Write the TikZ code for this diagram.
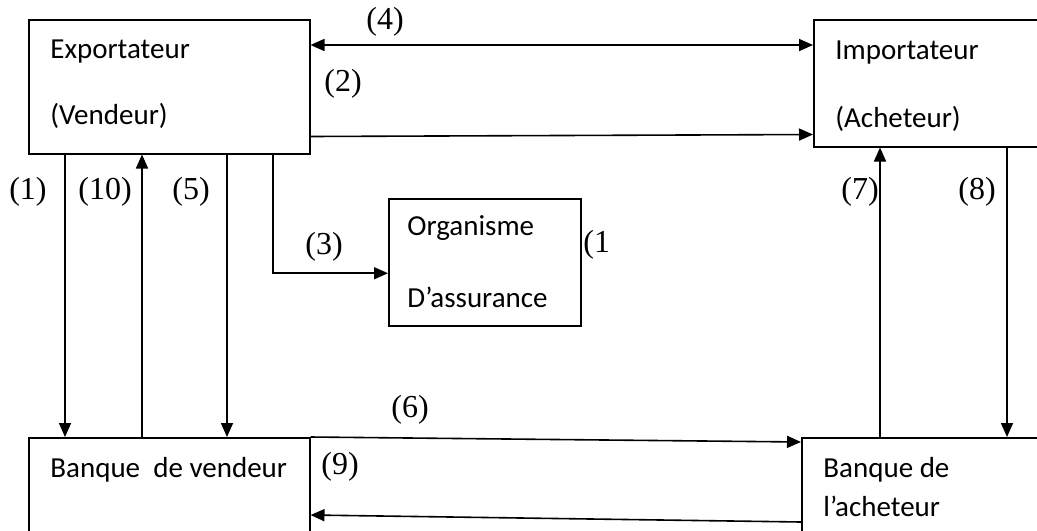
\documentclass[tikz,border=0pt]{standalone}
\usepackage{fontspec}
\setmainfont{Liberation Serif}
\newfontfamily\calibri{Carlito}
\usetikzlibrary{arrows.meta}

\begin{document}
\begin{tikzpicture}[x=0.5pt,y=-0.5pt,
     bx/.style={draw,line width=.75pt,anchor=north west,inner sep=0pt},
     tx/.style={anchor=base west,inner sep=0pt,font=\calibri\fontsize{14.5}{16}\selectfont},
     num/.style={inner sep=0pt,font=\fontsize{16}{18}\selectfont},
     ar/.style={line width=.8pt,-{Triangle[length=7pt,width=6pt]}},
     arb/.style={line width=.8pt,{Triangle[length=7pt,width=6pt]}-{Triangle[length=7pt,width=6pt]}}]
    \useasboundingbox (0,0) rectangle (1037,530);
    \clip (0,0) rectangle (1037,530);
    % boxes
    \node[bx,minimum width=140.5pt,minimum height=67pt](exp) at (28,19){};
    \node[bx,minimum width=140pt,minimum height=63.5pt](imp) at (813,19){};
    \node[bx,minimum width=96pt,minimum height=63.5pt](org) at (388,198){};
    \node[bx,minimum width=140.5pt,minimum height=60pt](bv) at (28,437){};
    \node[bx,minimum width=146pt,minimum height=60pt](ba) at (801,437){};
    \node[tx](e1) at (50,58){Exportateur}; \node[tx](e2) at (50,124){(Vendeur)};
    \node[tx](i1) at (835,59){Importateur}; \node[tx](i2) at (835,127){(Acheteur)};
    \node[tx](o1) at (407,235){Organisme}; \node[tx](o2) at (407,307){D’assurance};
    \node[tx](v1) at (50,477){Banque\ \ de vendeur};
    \node[tx](a1) at (823,477){Banque de}; \node[tx](a2) at (823,516){l’acheteur};
    % flows
    \draw[arb] ([shift={(0,26)}]exp.north east) -- ([shift={(0,26)}]imp.north west);
    \draw[ar] ([shift={(0,-18)}]exp.south east) -- ([shift={(0,-13)}]imp.south west);
    \draw[ar] ([shift={(37,0)}]exp.south west) -- ([shift={(37,0)}]bv.north west);
    \draw[ar] ([shift={(114,0)}]bv.north west) -- ([shift={(114,0)}]exp.south west);
    \draw[ar] ([shift={(199,0)}]exp.south west) -- ([shift={(199,0)}]bv.north west);
    \draw[ar] ([shift={(245,0)}]exp.south west) |- ([shift={(0,11)}]org.west);
    \draw[ar] (bv.north east) -- ([shift={(0,5)}]ba.north west);
    \draw[ar] ([shift={(0,85)}]ba.north west) -- ([shift={(0,78)}]bv.north east);
    \draw[ar] ([shift={(79,0)}]ba.north west) -- ([shift={(67,0)}]imp.south west);
    \draw[ar] ([shift={(194,0)}]imp.south west) -- ([shift={(206,0)}]ba.north west);
    % step numbers
    \node[num](n4) at (385,22){(4)}; \node[num](n2) at (343,84){(2)};
    \node[num](n1) at (28,192){(1)}; \node[num](n10) at (105,192){(10)};
    \node[num](n5) at (191,192){(5)}; \node[num](n3) at (324,247){(3)};
    \node[num,anchor=west](n11) at (583,245){(1};
    \node[num](n6) at (410,410){(6)}; \node[num](n9) at (340,467){(9)};
    \node[num](n7) at (860,192){(7)}; \node[num](n8) at (977,192){(8)};
\end{tikzpicture}
\end{document}
